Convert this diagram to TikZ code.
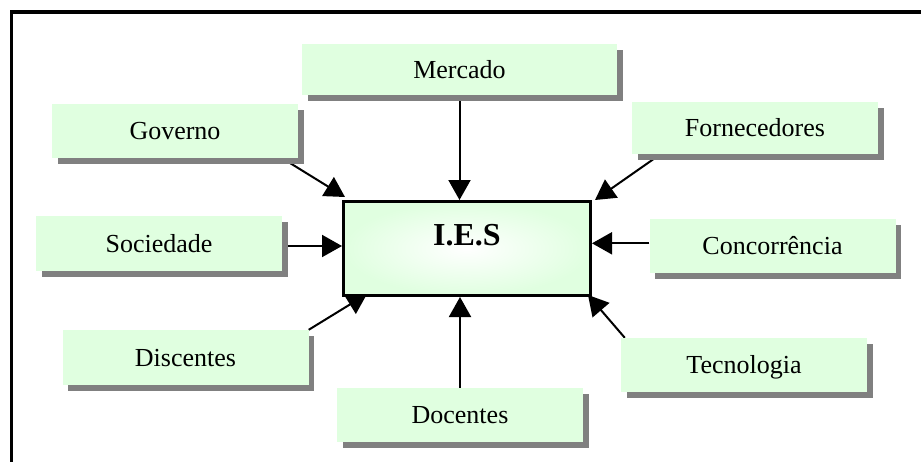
\documentclass[tikz,border=0pt]{standalone}
\usepackage{fontspec}
\setmainfont{Liberation Serif}
\usetikzlibrary{arrows.meta,shadows,calc}
\definecolor{boxgreen}{RGB}{224,255,224}
\pgfdeclarelayer{bg}
\pgfsetlayers{bg,main}
\begin{document}
\begin{tikzpicture}[x=1pt,y=-1pt,
  ebox/.style={rectangle, fill=boxgreen, draw=none, inner sep=0pt,
    minimum width=246pt, minimum height=54pt, text height=17.2pt, text depth=0pt,
    font=\fontsize{26}{30}\selectfont,
    drop shadow={shadow xshift=5.5pt, shadow yshift=-5.5pt, fill=black!50, opacity=1}},
  iesbox/.style={rectangle, draw=black, line width=3pt, inner color=white, outer color=boxgreen,
    minimum width=247pt, minimum height=94pt, inner sep=0pt, text height=21pt, text depth=28pt,
    font=\bfseries\fontsize{32}{36}\selectfont},
  arr/.style={line width=2pt, -{Triangle[length=20pt,width=22pt]}}]
\useasboundingbox (0,0) rectangle (921,461);
\draw[line width=3.5pt] (11.5,470) -- (11.5,12) -- (930,12);

\node[iesbox] (ies) at (467,248.5) {I.E.S};
\node[ebox, minimum width=315pt, minimum height=51pt] (mer) at (459.5,69.5) {Mercado};
\node[ebox] (gov) at (175,131) {Governo};
\node[ebox, minimum height=55pt] (soc) at (159,243.5) {Sociedade};
\node[ebox, minimum height=52pt] (forn) at (755,128) {Fornecedores};
\node[ebox] (conc) at (772.5,246) {Concorrência};
\node[ebox, minimum height=55pt] (disc) at (185.5,357.5) {Discentes};
\node[ebox] (tec) at (744,365) {Tecnologia};
\node[ebox] (doc) at (460,415) {Docentes};

\begin{pgfonlayer}{bg}
\draw[arr] (mer.south) -- (mer.south |- ies.north);
\draw[arr] ([xshift=-16pt]gov.south east) -- ([shift={(3pt,3pt)}]ies.north west);
\draw[arr] ([xshift=28.7pt]forn.south west) -- ([xshift=3pt]ies.north east);
\draw[arr] ([yshift=-2.5pt]soc.east) coordinate (s1) -- (s1 -| ies.west);
\draw[arr] ([yshift=2.7pt]conc.west) coordinate (c1) -- (c1 -| ies.east);
\draw[arr] (disc.north east) -- ([shift={(25pt,3pt)}]ies.south west);
\draw[arr] ([xshift=4pt]tec.north west) -- ([shift={(-4pt,2pt)}]ies.south east);
\draw[arr] (doc.north) -- (doc.north |- ies.south);
\end{pgfonlayer}
\end{tikzpicture}
\end{document}
